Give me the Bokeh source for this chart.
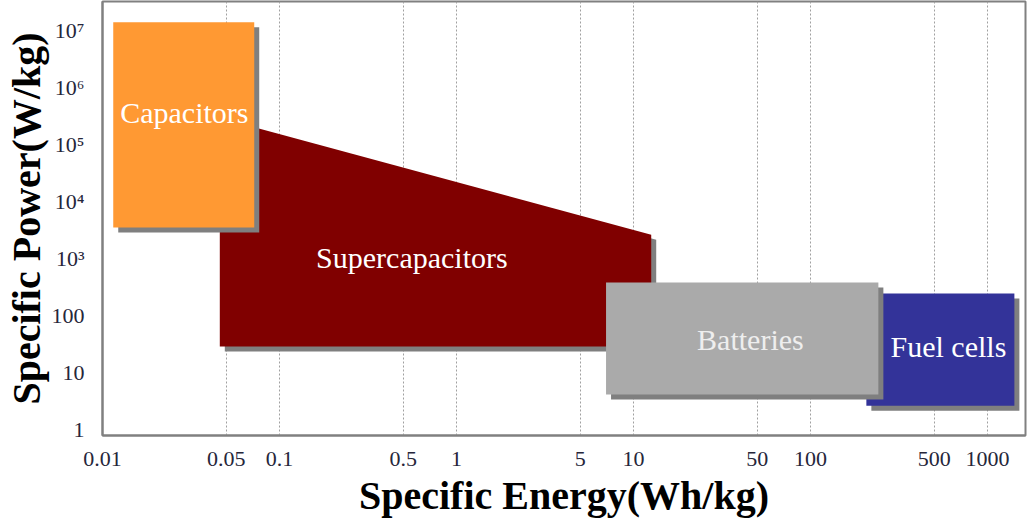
from bokeh.plotting import figure
from bokeh.models import Range1d, FixedTicker, ColumnDataSource
from bokeh.core.properties import value
from bokeh.embed import file_html
from bokeh.resources import INLINE

# ---- data ----
x_ticks = [0.01, 0.05, 0.1, 0.5, 1, 5, 10, 50, 100, 500, 1000]
x_tick_labels = ["0.01", "0.05", "0.1", "0.5", "1", "5", "10", "50", "100", "500", "1000"]
y_ticks = [1, 10, 100, 1e3, 1e4, 1e5, 1e6, 1e7]
y_tick_labels = ["1", "10", "100", "10\u00b3", "10\u2074", "10\u2075", "10\u2076", "10\u2077"]

# rectangular regions: energy (Wh/kg) min/max, power (W/kg) min/max
rect_names = ["Fuel cells", "Batteries", "Capacitors"]
rect_e_min = [207, 7.0, 0.0115]
rect_e_max = [1420, 242, 0.072]
rect_p_min = [2.6, 4.1, 3.5e3]
rect_p_max = [243, 380, 1.4e7]
rect_colors = ["#333399", "#AAAAAA", "#FF9933"]

# supercapacitor region outline
sc_energy = [0.046, 0.046, 0.072, 12.6, 12.6]
sc_power = [28.6, 2.6e5, 2.0e5, 2.6e3, 28.6]

# labels
label_text = ["Capacitors", "Supercapacitors", "Batteries", "Fuel cells"]
label_energy = [0.029, 0.56, 45.8, 602]
label_power = [3.6e5, 1.05e3, 38, 28.6]
label_color = ["#FFFFFF", "#FFFFFF", "#EEEEEE", "#FFFFFF"]

x_title = "Specific Energy(Wh/kg)"
y_title = "Specific Power(W/kg)"

# ---- styling ----
FONT = "Liberation Serif"
SHADOW = "#7F7F7F"
SX = 10 ** (5 / 177)   # ~5 px shift right on this log scale
SY = 10 ** (-5 / 57)   # ~5 px shift down

p = figure(
    x_axis_type="log", y_axis_type="log",
    x_range=Range1d(0.01, 1641), y_range=Range1d(0.785, 3.23e7),
    frame_width=923, frame_height=434,
    min_border_left=93, min_border_right=2, min_border_top=1, min_border_bottom=68,
    output_backend="svg", toolbar_location=None,
)
p.background_fill_color = "white"
p.border_fill_color = "white"
p.outline_line_color = "#808080"
p.outline_line_width = 2

p.ygrid.visible = False
p.xgrid.ticker = FixedTicker(ticks=x_ticks[1:])
p.xgrid.grid_line_color = "#A0A0A0"
p.xgrid.grid_line_dash = "2 2"
p.xgrid.grid_line_width = 1

for ax, ticks, labels in ((p.xaxis[0], x_ticks, x_tick_labels), (p.yaxis[0], y_ticks, y_tick_labels)):
    ax.ticker = FixedTicker(ticks=ticks, minor_ticks=[])
    ax.major_label_overrides = {t: l for t, l in zip(ticks, labels)}
    ax.major_tick_line_color = None
    ax.minor_tick_line_color = None
    ax.axis_line_color = "#808080"
    ax.axis_line_width = 2
    ax.major_label_text_font = FONT
    ax.major_label_text_font_size = "22px"
    ax.major_label_text_color = "#26263A"
    ax.axis_label_text_font = FONT
    ax.axis_label_text_font_style = "bold"
    ax.axis_label_text_font_size = "40px"
    ax.axis_label_text_color = "#000000"

p.xaxis.axis_label = x_title
p.yaxis.axis_label = y_title
p.xaxis.major_label_standoff = 10
p.xaxis.axis_label_standoff = 4
p.yaxis.major_label_standoff = 12
p.yaxis.axis_label_standoff = 0

# supercapacitors (shadow + body)
p.patch([e * SX for e in sc_energy], [w * SY for w in sc_power], color=SHADOW, line_width=0)
p.patch(sc_energy, sc_power, color="#800000", line_width=0)

# rectangles: fuel cells, batteries, capacitors (each with a drop shadow)
for i in range(len(rect_names)):
    p.quad(left=[rect_e_min[i] * SX], right=[rect_e_max[i] * SX],
           bottom=[rect_p_min[i] * SY], top=[rect_p_max[i] * SY],
           color=SHADOW, line_width=0)
    p.quad(left=[rect_e_min[i]], right=[rect_e_max[i]],
           bottom=[rect_p_min[i]], top=[rect_p_max[i]],
           color=rect_colors[i], line_width=0)

src = ColumnDataSource(dict(x=label_energy, y=label_power, t=label_text, c=label_color))
p.text(x="x", y="y", text="t", source=src, text_color="c",
       text_font=value(FONT), text_font_size="30px",
       text_align="center", text_baseline="middle")

open("out.html", "w").write(file_html(p, INLINE))
